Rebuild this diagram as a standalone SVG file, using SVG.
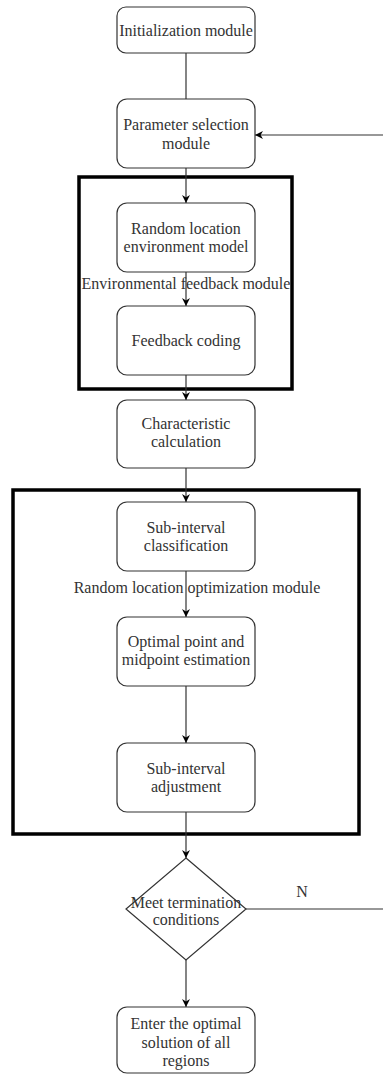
<svg xmlns="http://www.w3.org/2000/svg" width="383" height="1075" viewBox="0 0 383 1075">
<defs>
<marker id="ah" viewBox="0 0 10 10" refX="10" refY="5" markerWidth="8" markerHeight="8" markerUnits="userSpaceOnUse" orient="auto">
<path d="M0,0 L10,5 L0,10 L3,5 Z" fill="#000"/>
</marker>
<style>
.box{fill:#fff;stroke:#333;stroke-width:1.2}
.frame{fill:none;stroke:#000;stroke-width:3.5}
.t{font-family:"Liberation Serif","Times New Roman",serif;font-size:16px;fill:#333;text-anchor:middle}
.c{fill:none;stroke:#333;stroke-width:1.2}
</style>
</defs>
<rect width="383" height="1075" fill="#fff"/>
<g id="frame-env"><rect class="frame" x="79" y="177" width="213" height="212"/></g>
<g id="frame-opt"><rect class="frame" x="13" y="490" width="346" height="344"/></g>
<g id="connectors">
<line class="c" x1="186" y1="53" x2="186" y2="99"/>
<line class="c" x1="186" y1="168" x2="186" y2="203" marker-end="url(#ah)"/>
<line class="c" x1="186" y1="272" x2="186" y2="306" marker-end="url(#ah)"/>
<line class="c" x1="186" y1="375" x2="186" y2="400" marker-end="url(#ah)"/>
<line class="c" x1="186" y1="468" x2="186" y2="502" marker-end="url(#ah)"/>
<line class="c" x1="186" y1="571" x2="186" y2="617" marker-end="url(#ah)"/>
<line class="c" x1="186" y1="686" x2="186" y2="743" marker-end="url(#ah)"/>
<line class="c" x1="186" y1="812" x2="186" y2="858" marker-end="url(#ah)"/>
<line class="c" x1="186" y1="960" x2="186" y2="1007" marker-end="url(#ah)"/>
<path class="c" d="M246,909 L385,909 L385,135 L255,135" marker-end="url(#ah)"/>
<text class="t" x="302" y="897">N</text>
</g>
<text class="t" x="186" y="289">Environmental feedback module</text>
<text class="t" x="197" y="593">Random location optimization module</text>
<g id="n-init"><rect class="box" x="117" y="7" width="138" height="46" rx="9"/><text class="t" x="186" y="36">Initialization module</text></g>
<g id="n-param"><rect class="box" x="117" y="99" width="138" height="69" rx="10"/><text class="t" x="186" y="130">Parameter selection</text><text class="t" x="186" y="149">module</text></g>
<g id="n-random"><rect class="box" x="117" y="203" width="138" height="69" rx="10"/><text class="t" x="186" y="234">Random location</text><text class="t" x="186" y="252">environment model</text></g>
<g id="n-feedback"><rect class="box" x="117" y="306" width="138" height="69" rx="10"/><text class="t" x="186" y="346">Feedback coding</text></g>
<g id="n-char"><rect class="box" x="117" y="400" width="138" height="68" rx="10"/><text class="t" x="186" y="429">Characteristic</text><text class="t" x="186" y="447">calculation</text></g>
<g id="n-subclass"><rect class="box" x="117" y="502" width="138" height="69" rx="10"/><text class="t" x="186" y="533">Sub-interval</text><text class="t" x="186" y="551">classification</text></g>
<g id="n-optimal"><rect class="box" x="117" y="617" width="138" height="69" rx="10"/><text class="t" x="186" y="647">Optimal point and</text><text class="t" x="186" y="665">midpoint estimation</text></g>
<g id="n-adjust"><rect class="box" x="117" y="743" width="138" height="69" rx="10"/><text class="t" x="186" y="774">Sub-interval</text><text class="t" x="186" y="792">adjustment</text></g>
<g id="n-meet"><polygon class="box" points="186,858 246,909 186,960 126,909"/><text class="t" x="186" y="908">Meet termination</text><text class="t" x="186" y="925">conditions</text></g>
<g id="n-enter"><rect class="box" x="117" y="1007" width="138" height="66" rx="10"/><text class="t" x="186" y="1029">Enter the optimal</text><text class="t" x="186" y="1048">solution of all</text><text class="t" x="186" y="1066">regions</text></g>
</svg>
